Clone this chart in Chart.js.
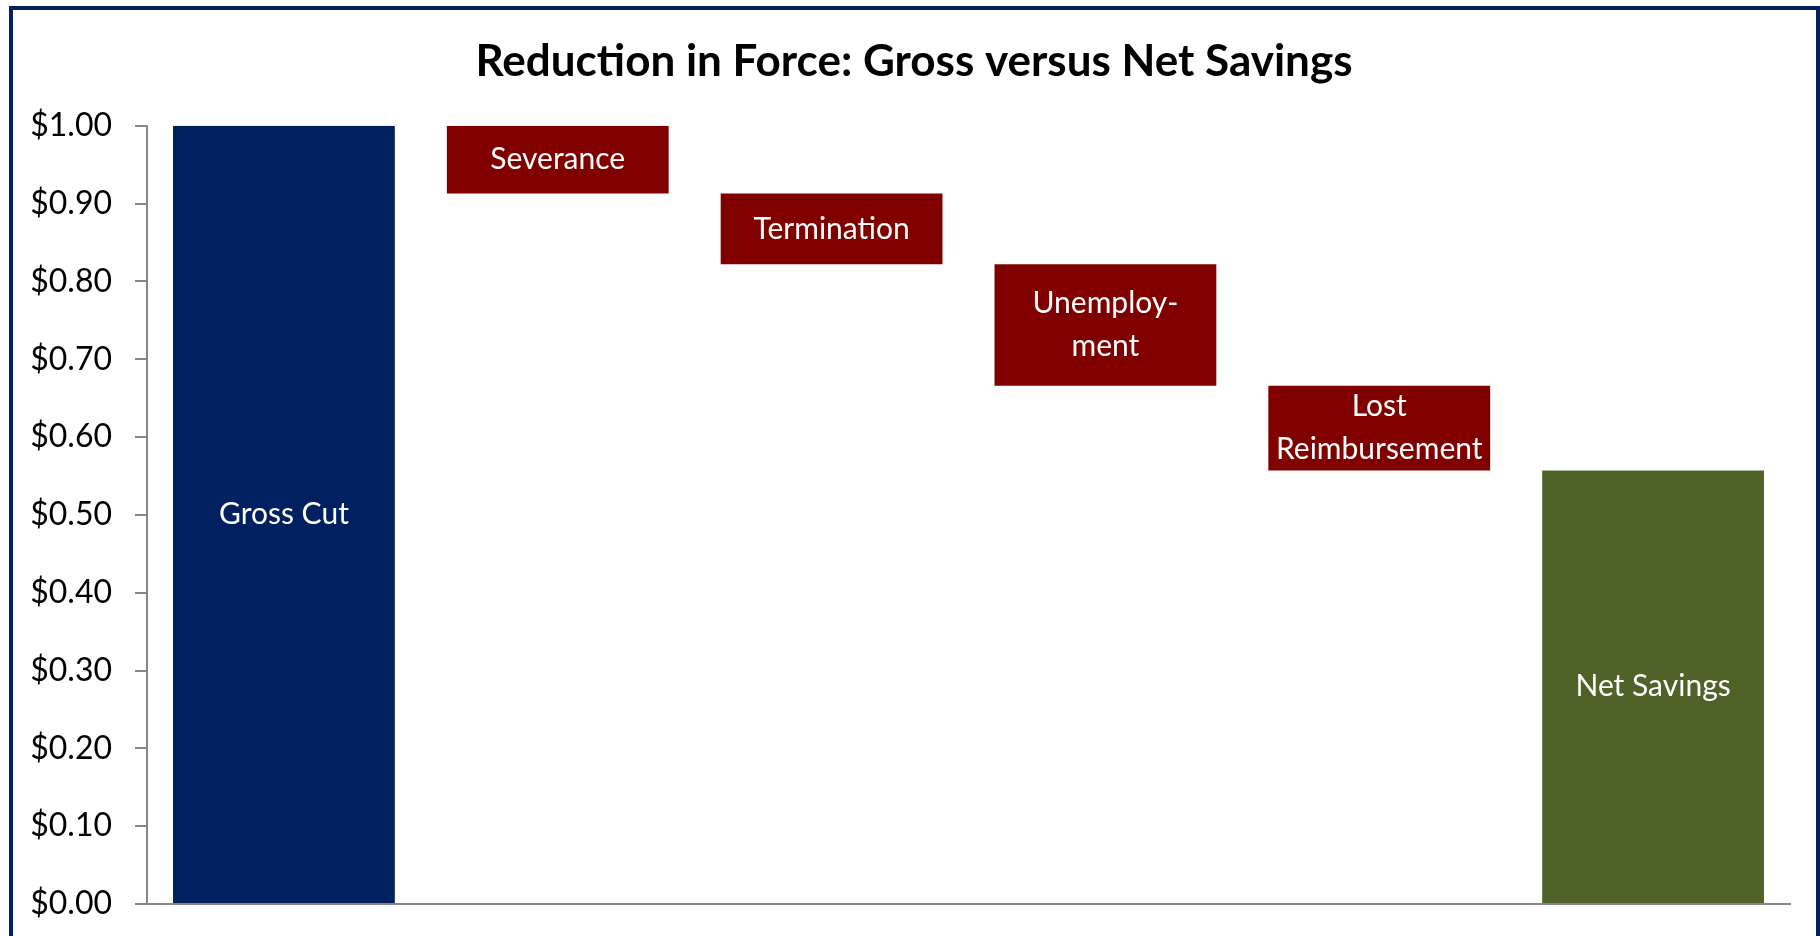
<!DOCTYPE html>
<html>
<head>
<meta charset="utf-8">
<title>Reduction in Force: Gross versus Net Savings</title>
<script src="https://cdn.jsdelivr.net/npm/chart.js@4.4.1/dist/chart.umd.min.js"></script>
<style>
  html, body { margin: 0; padding: 0; background: #fff; }
  #frame {
    position: absolute; left: 9px; top: 6px;
    width: 1811px; height: 1000px;
    border: 4px solid #002060; box-sizing: border-box;
  }
  #wrap { position: absolute; left: 0; top: 0; width: 1820px; height: 936px; }
</style>
</head>
<body>
<div id="frame"></div>
<div id="wrap"><canvas id="chartBar"></canvas></div>
<script>
// data
const categories = ['Gross Cut', 'Severance', 'Termination', 'Unemployment', 'Lost Reimbursement', 'Net Savings'];
const barText = [['Gross Cut'], ['Severance'], ['Termination'], ['Unemploy-', 'ment'], ['Lost', 'Reimbursement'], ['Net Savings']];
const barLow  = [0, 0.913, 0.822, 0.666, 0.557, 0];
const barHigh = [1.00, 1.00, 0.913, 0.822, 0.666, 0.557];
const barColors = ['#002060', '#800000', '#800000', '#800000', '#800000', '#4F6228'];

const axisGray = '#868686';

// white text in the middle of each bar
const barLabels = {
  id: 'barLabels',
  afterDatasetsDraw(chart) {
    const ctx = chart.ctx;
    const meta = chart.getDatasetMeta(0);
    ctx.save();
    ctx.fillStyle = '#fff';
    ctx.font = '30px Lato';
    ctx.textAlign = 'center';
    ctx.textBaseline = 'middle';
    meta.data.forEach((bar, i) => {
      const p = bar.getProps(['x', 'y', 'base'], true);
      const lines = barText[i];
      const lh = 43;
      const mid = (p.y + p.base) / 2;
      lines.forEach((t, j) => {
        ctx.fillText(t, p.x, mid + (j - (lines.length - 1) / 2) * lh);
      });
    });
    ctx.restore();
  }
};

const configBarChart = {
  type: 'bar',
  data: {
    labels: categories,
    datasets: [{
      data: categories.map((c, i) => [barLow[i], barHigh[i]]),
      backgroundColor: barColors,
      borderWidth: 0,
      categoryPercentage: 1.0,
      barPercentage: 0.81
    }]
  },
  options: {
    responsive: true,
    maintainAspectRatio: false,
    animation: false,
    layout: { padding: { top: 0, right: 0, bottom: 32, left: 8 } },
    plugins: {
      legend: { display: false },
      tooltip: { enabled: false },
      title: {
        display: true,
        text: 'Reduction in Force: Gross versus Net Savings',
        color: '#000',
        font: { family: 'Lato', size: 44, weight: 'bold' },
        padding: { top: 35, bottom: 38 }
      }
    },
    scales: {
      x: {
        ticks: { display: false },
        grid: { display: false },
        border: { display: true, color: axisGray, width: 2 },
        afterFit: s => { s.height = 0; }
      },
      y: {
        min: 0,
        max: 1,
        ticks: {
          stepSize: 0.1,
          color: '#000',
          padding: 23,
          font: { family: 'Lato', size: 32 },
          callback: v => '$' + Number(v).toFixed(2)
        },
        grid: {
          display: true,
          drawOnChartArea: false,
          drawTicks: true,
          tickLength: 12,
          color: axisGray,
          lineWidth: 2
        },
        border: { display: true, color: axisGray, width: 2 },
        afterFit: s => { s.width = 139; s.paddingTop = 0; s.paddingBottom = 0; }
      },
      // empty strip on the right, keeps the plot clear of the frame
      yRight: {
        position: 'right',
        display: true,
        ticks: { display: false },
        grid: { display: false },
        border: { display: false },
        afterFit: s => { s.width = 30; }
      }
    }
  },
  plugins: [barLabels]
};

var chartBar = new Chart(document.getElementById('chartBar'), configBarChart);
</script>
</body>
</html>
